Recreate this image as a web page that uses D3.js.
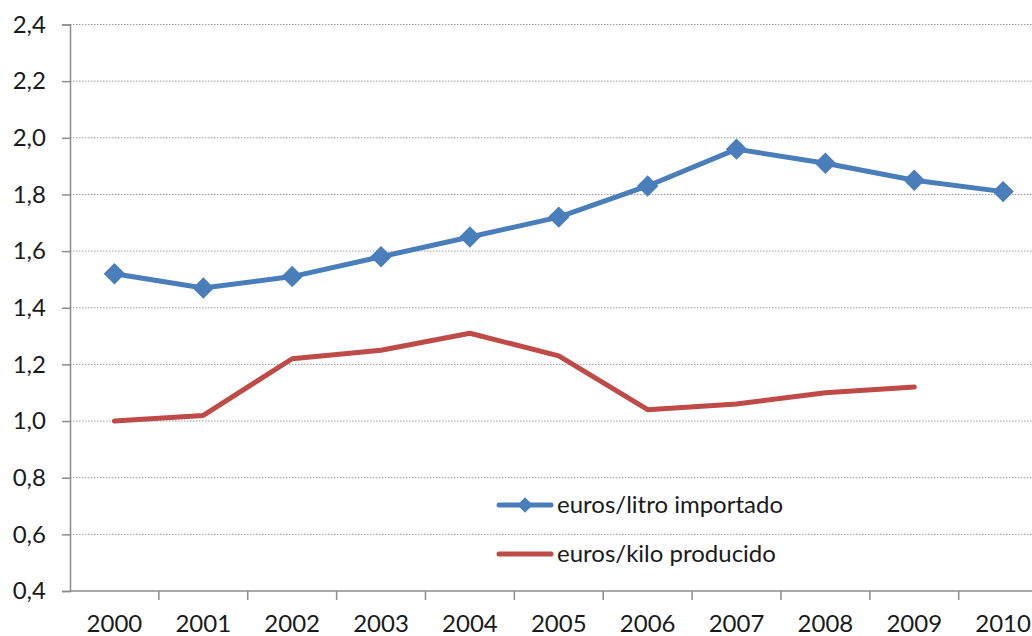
<!DOCTYPE html>
<html>
<head>
<meta charset="utf-8">
<script src="https://cdn.jsdelivr.net/npm/d3@7"></script>
<style>
  body { margin: 0; background: #fff; }
  svg { display: block; font-family: Lato, "Open Sans", sans-serif; }
</style>
</head>
<body>
<svg id="chart" width="1032" height="636"></svg>
<script>
// data
var years = ["2000", "2001", "2002", "2003", "2004", "2005", "2006", "2007", "2008", "2009", "2010"];
var importado = [1.52, 1.47, 1.51, 1.58, 1.65, 1.72, 1.83, 1.96, 1.91, 1.85, 1.81];
var producido = [1.00, 1.02, 1.22, 1.25, 1.31, 1.23, 1.04, 1.06, 1.10, 1.12, null];
var yTicks = [0.4, 0.6, 0.8, 1.0, 1.2, 1.4, 1.6, 1.8, 2.0, 2.2, 2.4];
var seriesNames = ["euros/litro importado", "euros/kilo producido"];

var svg = d3.select("#chart");

var plotLeft = 70, plotTop = 24.5, plotBottom = 591, step = 88.87;

var x = d3.scaleBand()
    .domain(years)
    .range([plotLeft, plotLeft + step * years.length]);

var y = d3.scaleLinear()
    .domain([0.4, 2.4])
    .range([plotBottom, plotTop]);

var es = d3.formatLocale({decimal: ",", thousands: ".", grouping: [3], currency: ["", "€"]});
var fmt = es.format(".1f");

// dotted gridlines
svg.append("g")
    .selectAll("line")
    .data(yTicks.slice(1))
  .enter().append("line")
    .attr("x1", plotLeft)
    .attr("x2", 1032)
    .attr("y1", function (d) { return y(d); })
    .attr("y2", function (d) { return y(d); })
    .attr("stroke", "#9a9a9a")
    .attr("stroke-width", 1)
    .attr("stroke-dasharray", "1.5,1.5");

// y axis
var yAxis = svg.append("g")
    .attr("transform", "translate(" + plotLeft + ",0)")
    .call(d3.axisLeft(y).tickValues(yTicks).tickFormat(fmt).tickSize(8).tickPadding(16));
yAxis.select(".domain").attr("stroke", "#8c8c8c").attr("stroke-width", 1.5);
yAxis.selectAll(".tick line").attr("stroke", "#8c8c8c").attr("stroke-width", 1.5);
yAxis.selectAll("text")
    .attr("font-size", 24)
    .attr("fill", "#1a1a1a")
    .attr("font-family", "Lato, sans-serif");

// x axis: ticks on category boundaries
svg.append("line")
    .attr("x1", plotLeft).attr("x2", 1032)
    .attr("y1", plotBottom).attr("y2", plotBottom)
    .attr("stroke", "#8c8c8c").attr("stroke-width", 1.5);

svg.append("g")
    .selectAll("line")
    .data(years)
  .enter().append("line")
    .attr("x1", function (d) { return x(d) + x.bandwidth(); })
    .attr("x2", function (d) { return x(d) + x.bandwidth(); })
    .attr("y1", plotBottom)
    .attr("y2", plotBottom + 9)
    .attr("stroke", "#8c8c8c")
    .attr("stroke-width", 1.5);

svg.append("g")
    .selectAll("text")
    .data(years)
  .enter().append("text")
    .attr("x", function (d) { return x(d) + x.bandwidth() / 2; })
    .attr("y", 632)
    .attr("text-anchor", "middle")
    .attr("font-size", 24)
    .attr("fill", "#1a1a1a")
    .text(function (d) { return d; });

var cx = function (i) { return x(years[i]) + x.bandwidth() / 2; };

var line = d3.line()
    .defined(function (d) { return d != null; })
    .x(function (d, i) { return cx(i); })
    .y(function (d) { return y(d); });

// red series
svg.append("path")
    .datum(producido)
    .attr("fill", "none")
    .attr("stroke", "#be4b48")
    .attr("stroke-width", 5)
    .attr("stroke-linejoin", "round")
    .attr("stroke-linecap", "round")
    .attr("d", line);

// blue series with diamonds
svg.append("path")
    .datum(importado)
    .attr("fill", "none")
    .attr("stroke", "#4a7ebb")
    .attr("stroke-width", 5)
    .attr("stroke-linejoin", "round")
    .attr("d", line);

var diamond = d3.symbol().type(d3.symbolSquare).size(230);
svg.append("g")
    .selectAll("path")
    .data(importado)
  .enter().append("path")
    .attr("d", diamond)
    .attr("fill", "#4a7ebb")
    .attr("transform", function (d, i) { return "translate(" + cx(i) + "," + y(d) + ") rotate(45)"; });

// legend (no background, gridline shows through)
var legend = svg.append("g");
var legendY = [505, 554];
var legendColor = ["#4a7ebb", "#be4b48"];
seriesNames.forEach(function (name, i) {
    legend.append("line")
        .attr("x1", 499).attr("x2", 551)
        .attr("y1", legendY[i]).attr("y2", legendY[i])
        .attr("stroke", legendColor[i])
        .attr("stroke-width", 5)
        .attr("stroke-linecap", "round");
    if (i === 0) {
        legend.append("path")
            .attr("d", d3.symbol().type(d3.symbolSquare).size(120))
            .attr("fill", legendColor[i])
            .attr("transform", "translate(525," + legendY[i] + ") rotate(45)");
    }
    legend.append("text")
        .attr("x", 557)
        .attr("y", legendY[i] + 8)
        .attr("font-size", 24)
        .attr("fill", "#1a1a1a")
        .text(name);
});
</script>
</body>
</html>
